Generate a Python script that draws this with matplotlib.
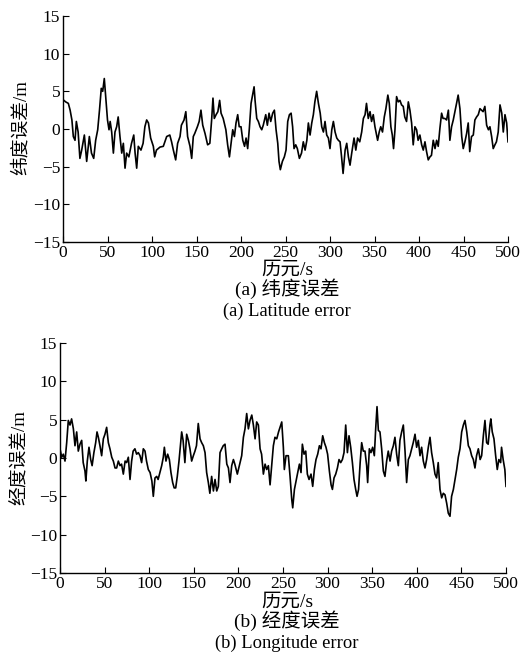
"""
Latitude / longitude error over 500 epochs
"""

import numpy as np
import matplotlib.pyplot as plt

# -----------------------------
# Data
# -----------------------------

LAT_T = [
    0, 3, 6, 8, 10, 11.6, 13.5, 15, 17, 19, 21, 24, 26.6, 29.6, 32, 34.5, 36.7, 39, 41, 43,
    44.6, 46.4, 48, 50, 51.7, 53, 54.7, 56.6, 58.4, 60.3, 62, 64, 66, 67.8, 69.7, 71.5, 74, 77,
    79.5, 81, 82.8, 84.6, 87.6, 90, 92, 94, 96, 98.5, 101.5, 103, 105, 109, 112.7, 116.5, 120,
    122, 124, 126.6, 128.8, 131.5, 133, 136, 138, 140, 142.7, 144.6, 146.4, 148, 151, 153, 155,
    157, 159.6, 162.5, 165, 167, 168.5, 170, 172, 174, 176, 177.6, 180, 183, 185, 187, 189,
    190.7, 192.6, 194.4, 196.3, 198, 200, 202, 204, 205.7, 207.5, 209.4, 211.3, 213, 214.7,
    215.8, 217.7, 219.5, 221.4, 223.3, 225, 227.8, 229.6, 231.5, 233.4, 235.6, 237.5, 239.4,
    241.3, 242.7, 244.2, 246.5, 248.7, 250.6, 252.5, 254.4, 256.3, 258, 259.6, 261.5, 263.3,
    265.6, 268, 270, 272, 274, 275.7, 277.6, 279.5, 281.3, 283, 285, 287, 289, 290.7, 292.6,
    294.4, 296.3, 298.2, 300, 302, 303.8, 305.7, 307.6, 309.4, 311.3, 313, 314.7, 317, 318.8,
    320.7, 322.5, 324.4, 327, 329, 331, 333.4, 335.6, 337.5, 339.4, 341, 343, 345, 346.7,
    348.6, 350.5, 352.3, 353.5, 355.3, 357, 359, 361, 362.8, 365, 366.6, 368.4, 370, 371.4,
    373, 374.8, 376.7, 378.6, 380.4, 382.3, 384, 386, 388, 389.8, 391.7, 393.5, 395.4, 397.3,
    399, 401, 403, 404.8, 406.7, 408.5, 410.4, 412.3, 414, 416, 418, 419.8, 421.6, 423.5,
    425.4, 427, 429, 431, 433, 434.7, 436.6, 438.5, 440.4, 442.2, 444, 446, 448, 449.7, 451.6,
    453.5, 455.3, 457, 459, 461, 462.8, 464.7, 466.6, 468.5, 470.3, 472, 474, 476, 478, 479.7,
    481.6, 483.4, 485.3, 487, 489, 491, 493, 494.7, 496.6, 498.5, 500,
]
LAT_ERR = [
    3.9, 3.6, 3.4, 2.5, 1.2, -1.0, -1.5, 1.0, -0.4, -3.9, -2.8, -0.8, -4.3, -1.0, -3.2, -3.9,
    -1.5, -0.1, 2.5, 5.4, 5.0, 6.7, 4.3, 1.2, -0.1, 1.0, -0.4, -3.2, -0.4, 0.3, 1.6, -1.0, -3.2,
    -1.9, -5.2, -3.2, -3.7, -1.9, -0.8, -3.2, -5.2, -2.3, -2.8, -1.9, 0.3, 1.2, 0.8, -1.2, -2.3,
    -3.7, -2.8, -2.4, -2.3, -1.0, -0.8, -1.7, -2.8, -4.1, -1.9, -1.0, 0.5, 1.2, 2.3, -1.0, -2.3,
    -3.9, -1.0, -0.6, 0.3, 1.0, 2.5, 0.5, -0.6, -2.1, -1.9, 1.2, 4.1, 1.4, 1.9, 2.3, 3.8, 2.1,
    1.4, -0.1, -2.1, -3.7, -1.7, -0.1, -1.0, 0.8, 1.9, 0.3, 0.3, -1.5, -2.3, -1.2, -2.6, 0.1,
    3.4, 4.5, 5.6, 3.8, 1.4, 1.0, 0.3, -0.1, 0.5, 1.9, 0.5, 2.1, 1.0, 2.1, 2.5, -0.1, -1.9,
    -4.3, -5.4, -4.3, -3.7, -2.8, 1.0, 1.9, 2.1, 0.3, -2.6, -2.1, -2.6, -3.9, -3.2, -1.7, -2.8,
    -1.5, 0.8, -0.8, 0.8, 1.9, 3.6, 5.0, 3.4, 2.1, 0.3, -0.4, 1.0, -0.8, -1.2, -2.6, -0.1, 1.0,
    -0.4, -1.2, -1.5, -1.7, -3.7, -5.9, -2.8, -1.9, -3.7, -4.8, -3.2, -1.2, -2.8, -1.2, -1.7,
    -0.4, 1.4, 1.9, 3.4, 1.4, 2.3, 1.0, 1.9, 0.3, -0.8, -1.5, -0.4, 0.3, -0.4, 1.6, 2.7, 4.5,
    3.4, 0.3, -0.8, -2.6, -0.1, 4.3, 3.6, 3.8, 3.2, 3.0, 1.6, 1.0, 3.6, 2.5, 0.8, -2.1, 0.3,
    -0.1, -1.5, -0.8, -2.1, -2.8, -1.7, -3.0, -4.1, -3.7, -3.5, -1.5, -2.6, -1.5, -2.3, 0.1,
    2.1, 1.4, 1.4, 1.2, 2.5, -1.5, 0.3, 1.2, 2.3, 3.4, 4.5, 2.7, -1.0, -2.6, -1.7, -0.6, 0.8,
    -3.0, -1.0, -0.8, 1.2, 1.6, 1.9, 2.7, 2.5, 2.3, 3.0, 0.5, -0.1, 0.3, -1.0, -2.6, -2.1,
    -1.7, -0.4, 3.2, 2.1, -0.4, 1.9, 0.8, -1.7,
]

LON_T = [
    0, 1.9, 3.7, 5.6, 7.5, 9.3, 11.2, 13, 15, 16.8, 18.7, 20.5, 22.4, 24.3, 26, 28, 29, 30.6,
    32.5, 34.4, 36, 38, 40, 41.5, 43, 44.8, 46.7, 48.6, 50.4, 52.3, 54.2, 56, 58, 59.8, 61.7,
    63.5, 65.4, 67.3, 69, 71, 73, 74.7, 76.6, 78.5, 80.3, 82, 84, 85.9, 87.8, 89.7, 91.5, 93.4,
    95.3, 97, 99, 101, 103, 104.6, 106.5, 108.4, 110, 112, 114, 115.8, 117, 118.8, 120.7, 122.6,
    124.4, 126.3, 128, 129.7, 131.5, 133.4, 135.3, 136.4, 138, 140, 142, 143.9, 145.7, 147.6,
    149.5, 151.3, 153, 155, 157, 158.8, 160.7, 162.6, 164.4, 166.3, 168, 170, 172, 173.8, 175.7,
    177.5, 179.4, 181.3, 183, 185, 187, 188.8, 190.6, 192.5, 194.4, 196, 198.8, 201, 203.7,
    205.6, 207.4, 209.3, 211.2, 213, 215, 216.8, 218.7, 220.5, 222.4, 224.3, 226, 228, 229.9,
    231.7, 233.6, 235.5, 237.3, 239.2, 241, 243, 245, 246.7, 248.6, 250.4, 251.5, 253.4, 256,
    257.9, 259.8, 260.9, 262.8, 264.6, 266.5, 268.4, 270.2, 271.7, 273.6, 275.5, 277.3, 279.2,
    281.4, 283.3, 285.2, 287, 288.9, 290.8, 292.6, 294.5, 296.4, 298.2, 300, 302, 303.9, 305.4,
    307.2, 309.1, 311, 312.8, 314.7, 316.6, 318.4, 320.3, 322.2, 324, 325.9, 327.8, 329.6,
    331.5, 333, 334.7, 336.5, 338.2, 340, 341.9, 343.8, 344.9, 346.8, 348.6, 350.5, 352.4,
    353.9, 355.4, 356.9, 358.7, 360.6, 362.5, 364.3, 366.2, 368, 370, 371.8, 373.7, 375.5,
    377.4, 379.3, 381.1, 383, 384.9, 386.8, 388.6, 390.5, 392.3, 394.2, 396, 398, 399.8, 401.7,
    403.6, 405.4, 407.3, 409.2, 411, 412.9, 414.8, 416.6, 418.5, 420.4, 422.2, 424, 426, 427.9,
    429.7, 431.6, 433.5, 435.3, 437.2, 439, 441, 442.8, 444.7, 446.5, 448.4, 450.3, 452.2, 454,
    456, 457.8, 459.6, 461.5, 463.4, 465.2, 467, 469, 471, 472.7, 474.6, 476.4, 478.3, 480,
    482, 483, 484.6, 486.5, 488.4, 490.2, 492, 494, 495, 496.8, 498.7, 500,
]
LON_ERR = [
    1.2, 0.1, 0.5, -0.4, 2.0, 4.9, 4.3, 5.1, 3.8, 1.6, 3.4, 0.9, 1.8, 2.3, -0.6, -1.7, -3.0,
    -0.4, 1.4, -0.2, -1.0, 0.7, 2.0, 3.4, 2.7, 1.6, 0.3, 2.5, 3.1, 4.0, 2.0, 1.2, 0.1, -0.4,
    -1.3, -1.3, -0.4, -1.0, -0.8, -2.1, -0.4, -0.6, 0.1, -2.8, -0.4, 0.9, 1.2, 0.5, 0.7, 0.3,
    -0.6, 1.2, 0.9, -0.4, -1.5, -1.9, -3.0, -5.0, -2.6, -2.4, -2.8, -1.9, -1.0, 0.1, 1.4, -0.4,
    0.5, -0.2, -1.9, -3.2, -3.9, -3.9, -2.4, -0.4, 2.0, 3.4, 2.3, -0.6, 3.1, 2.3, 1.2, -0.4,
    0.3, 0.9, 1.6, 4.5, 2.5, 2.0, 1.6, 0.7, -1.9, -3.2, -4.6, -2.4, -4.3, -2.8, -4.3, -3.7, 0.7,
    1.2, 1.6, 1.8, -0.8, -1.3, -3.2, -1.0, -0.2, -0.8, -2.1, -1.0, 0.3, 2.7, 3.8, 5.8, 3.8,
    4.9, 5.6, 4.3, 2.5, 4.7, 4.3, 1.2, 0.5, -2.1, -0.8, -1.5, -1.0, -3.5, -1.0, 1.6, 2.7, 2.5,
    3.4, 4.0, 4.7, 1.4, -1.5, 0.3, 0.3, -2.4, -5.4, -6.5, -4.1, -3.0, -1.9, -0.8, -1.9, 1.8,
    0.5, 0.9, -2.1, -2.8, -2.1, -3.7, -1.5, -0.2, 0.5, 1.6, 1.2, 2.9, 2.0, 1.4, 0.5, -1.7, -3.5,
    -4.1, -2.6, -2.1, -1.3, -0.2, -0.6, -0.2, 0.7, 4.3, 0.7, 2.9, 1.4, -0.6, -2.8, -4.1, -5.0,
    -4.1, -0.6, 2.0, 0.9, 0.9, -1.0, -3.2, 1.2, 0.7, 1.4, 0.3, 3.8, 6.7, 3.6, 3.4, 1.2, -1.7,
    -2.4, -0.4, 0.9, -0.4, 0.9, 1.6, 2.7, 0.5, -1.0, 2.3, 3.4, 4.3, 0.9, -3.2, -0.2, 0.3, 1.2,
    2.0, 3.1, 1.4, 2.3, 0.3, 1.4, -0.4, -1.3, -0.2, 1.4, 2.7, 0.7, -0.6, -2.1, -2.6, -0.6, -4.1,
    -5.2, -4.6, -4.8, -5.9, -7.2, -7.6, -5.0, -4.1, -2.8, -1.5, 0.1, 1.2, 3.4, 4.3, 4.9, 3.4,
    1.6, 1.2, 0.3, -0.2, -1.3, 0.3, 1.2, -0.2, 0.3, 2.9, 4.9, 2.0, 1.8, 4.3, 5.1, 3.4, 2.5,
    0.3, -1.5, -0.2, -0.6, 1.4, -0.2, -1.5, -3.7,
]

X_TICKS = np.arange(0, 501, 50)
Y_TICKS = [-15, -10, -5, 0, 5, 10, 15]

W, H = 522, 660

plt.rcParams["font.family"] = ["Liberation Serif", "Noto Sans CJK SC"]
plt.rcParams["font.size"] = 12
plt.rcParams["axes.unicode_minus"] = True


def style_axis(ax):
    ax.set_xlim(0, 500)
    ax.set_ylim(-15, 15)
    ax.set_xticks(X_TICKS)
    ax.set_yticks(Y_TICKS)
    ax.spines["top"].set_visible(False)
    ax.spines["right"].set_visible(False)
    for side in ["left", "bottom"]:
        ax.spines[side].set_linewidth(1.0)
    ax.tick_params(direction="in", length=4, width=0.8, labelsize=12.5, pad=2)


def fx(px):
    return px / W


def fy(py):
    return 1 - py / H


def main():
    fig = plt.figure(figsize=(W / 100, H / 100), dpi=100)

    # (a) latitude
    ax1 = fig.add_axes([fx(63), fy(242), fx(508) - fx(63), fy(16) - fy(242)])
    ax1.plot(LAT_T, LAT_ERR, color="black", linewidth=1.2)
    style_axis(ax1)

    fig.text(fx(21), fy(128), "纬度误差/m", rotation=90, ha="center", va="center", fontsize=13.5)
    fig.text(fx(287), fy(270), "历元/s", ha="center", va="center", fontsize=14)
    fig.text(fx(287), fy(289), "(a) 纬度误差", ha="center", va="center", fontsize=14)
    fig.text(fx(287), fy(311), "(a) Latitude error", ha="center", va="center", fontsize=13.3)

    # (b) longitude
    ax2 = fig.add_axes([fx(60), fy(573), fx(506) - fx(60), fy(343) - fy(573)])
    ax2.plot(LON_T, LON_ERR, color="black", linewidth=1.2)
    style_axis(ax2)

    fig.text(fx(19), fy(458), "经度误差/m", rotation=90, ha="center", va="center", fontsize=13.5)
    fig.text(fx(287), fy(602), "历元/s", ha="center", va="center", fontsize=14)
    fig.text(fx(287), fy(621), "(b) 经度误差", ha="center", va="center", fontsize=14)
    fig.text(fx(287), fy(643), "(b) Longitude error", ha="center", va="center", fontsize=13.3)

    fig.savefig("out.png", dpi=100)
    plt.close(fig)


if __name__ == "__main__":
    main()
